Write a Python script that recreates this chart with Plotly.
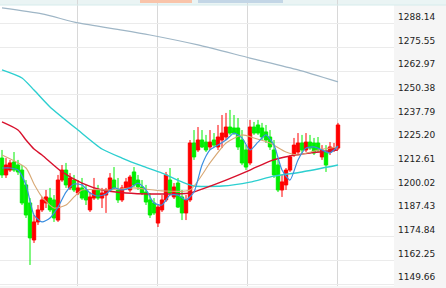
import plotly.graph_objects as go

# ---- candle data (index, open, high, low, close) ----
opens = [1216.8, 1207.8, 1210.4, 1214.7, 1213.1, 1210.4, 1202.5, 1192.9, 1173.2, 1182.8,
         1189.2, 1192.9, 1195.5, 1194.5, 1183.8, 1205.1, 1210.4, 1200.9, 1205.1, 1198.2,
         1200.9, 1199.8, 1189.2, 1195.5, 1199.8, 1195.5, 1197.1, 1199.8, 1205.1, 1199.8,
         1194.5, 1200.9, 1199.8, 1209.4, 1205.1, 1201.4, 1198.7, 1194.5, 1192.9, 1182.2,
         1189.2, 1194.5, 1205.1, 1196.1, 1203.5, 1196.1, 1187.6, 1194.5, 1224.8, 1221.1,
         1226.4, 1225.3, 1222.7, 1226.4, 1222.7, 1226.4, 1228.0, 1233.3, 1232.8, 1232.8,
         1226.4, 1221.1, 1214.2, 1233.3, 1234.4, 1232.8, 1230.7, 1228.0, 1221.1, 1213.1,
         1199.8, 1202.5, 1210.4, 1218.4, 1220.0, 1224.8, 1221.1, 1225.3, 1224.8, 1224.8,
         1217.4, 1220.0, 1220.0, 1221.1, 1222.1]
highs = [1221.1, 1216.8, 1215.8, 1220.0, 1215.8, 1213.1, 1205.1, 1195.5, 1186.5, 1191.8,
         1196.1, 1199.8, 1200.9, 1197.1, 1207.8, 1213.1, 1214.2, 1208.8, 1207.8, 1205.1,
         1206.2, 1202.5, 1198.7, 1206.2, 1202.5, 1200.9, 1200.9, 1208.8, 1212.0, 1206.2,
         1202.5, 1206.2, 1207.8, 1212.0, 1207.8, 1205.1, 1202.5, 1198.2, 1195.5, 1191.8,
         1197.1, 1209.4, 1211.5, 1203.5, 1206.2, 1199.8, 1197.1, 1226.4, 1231.7, 1233.3,
         1231.7, 1229.1, 1231.7, 1230.1, 1234.4, 1239.7, 1240.8, 1242.4, 1239.7, 1238.1,
         1231.7, 1223.7, 1237.1, 1236.0, 1237.1, 1235.5, 1234.4, 1231.7, 1226.4, 1215.8,
         1207.8, 1211.5, 1218.4, 1227.5, 1230.1, 1229.1, 1230.1, 1229.1, 1227.5, 1228.0,
         1223.7, 1223.7, 1225.3, 1224.8, 1235.5]
lows = [1206.2, 1206.2, 1209.4, 1209.4, 1207.8, 1191.8, 1184.9, 1159.9, 1171.6, 1181.2,
        1188.1, 1190.2, 1188.1, 1182.8, 1182.8, 1204.1, 1200.9, 1199.8, 1198.7, 1197.1,
        1194.5, 1191.8, 1188.1, 1194.5, 1194.5, 1190.2, 1187.6, 1198.7, 1199.8, 1192.9,
        1193.4, 1199.8, 1198.7, 1201.4, 1199.8, 1197.1, 1191.8, 1184.9, 1186.5, 1180.1,
        1188.1, 1193.4, 1197.1, 1195.0, 1190.2, 1183.8, 1183.8, 1193.4, 1215.8, 1220.0,
        1222.1, 1220.0, 1221.1, 1222.7, 1221.1, 1222.1, 1226.4, 1229.1, 1229.1, 1221.1,
        1213.1, 1210.4, 1213.1, 1229.1, 1229.1, 1226.4, 1224.8, 1221.1, 1206.2, 1198.7,
        1196.1, 1199.8, 1209.4, 1217.4, 1219.0, 1219.5, 1220.0, 1221.1, 1218.4, 1220.0,
        1215.8, 1209.4, 1218.4, 1220.0, 1221.1]
closes = [1207.8, 1213.1, 1214.2, 1210.4, 1209.4, 1192.9, 1186.5, 1174.3, 1182.8, 1189.2,
          1194.5, 1196.1, 1189.2, 1184.9, 1205.1, 1210.4, 1202.5, 1206.2, 1199.8, 1200.9,
          1195.5, 1194.5, 1196.1, 1199.8, 1195.5, 1198.2, 1199.8, 1206.2, 1200.9, 1194.5,
          1200.9, 1204.1, 1206.7, 1202.5, 1201.4, 1198.2, 1193.4, 1186.5, 1187.6, 1190.7,
          1194.5, 1207.8, 1198.2, 1201.4, 1190.7, 1187.6, 1194.5, 1224.8, 1217.4, 1226.4,
          1222.7, 1221.1, 1225.3, 1223.7, 1228.0, 1230.1, 1233.3, 1230.1, 1230.1, 1222.7,
          1214.2, 1212.0, 1233.3, 1230.1, 1230.1, 1228.0, 1226.4, 1222.7, 1207.8, 1199.8,
          1204.1, 1210.4, 1217.4, 1223.7, 1224.8, 1221.1, 1225.3, 1222.1, 1219.5, 1221.1,
          1221.1, 1213.1, 1222.7, 1222.1, 1234.4]
candle_idx = list(range(len(closes)))

# ---- moving average lines (read at candle indices) ----
ma_long_idx = [0, 10, 19, 30, 37, 49, 62, 74, 84]
ma_long = [1296.7, 1293.5, 1288.7, 1284.9, 1282.3, 1277.0, 1270.0, 1263.7, 1257.3]

ma_cyan_idx = [0, 5, 8, 12, 19, 25, 30, 35, 40, 45, 48, 55, 62, 68, 75, 84]
ma_cyan = [1263.7, 1259.4, 1253.0, 1244.0, 1231.7, 1221.6, 1216.8, 1212.6, 1208.8, 1204.1,
           1201.9, 1201.9, 1204.0, 1207.2, 1209.4, 1213.1]

ma_red_idx = [0, 4, 6, 8, 10, 15, 20, 25, 31, 37, 47, 50, 56, 62, 67, 72, 77, 84]
ma_red = [1236.0, 1231.7, 1226.4, 1221.6, 1218.4, 1209.4, 1203.5, 1199.8, 1198.2, 1197.7,
          1198.2, 1200.3, 1205.1, 1210.4, 1215.2, 1217.9, 1219.5, 1221.1]

ma_tan_idx = [0, 6, 8, 10, 13, 16, 18, 20, 27, 33, 40, 47, 52, 56, 60, 63, 67, 71, 74, 79, 84]
ma_tan = [1218.4, 1211.5, 1203.0, 1196.1, 1190.2, 1191.8, 1196.1, 1199.8, 1199.8, 1200.9,
          1199.3, 1199.8, 1214.2, 1224.8, 1229.1, 1227.5, 1224.8, 1220.0, 1218.4, 1221.1, 1222.7]

ma_blue_idx = list(range(0, 85, 2)) + [84]
ma_blue = [1211.5, 1211.5, 1210.4, 1202.5, 1186.5, 1182.8, 1184.9, 1190.7, 1198.7, 1203.0,
           1202.5, 1198.2, 1196.6, 1197.7, 1200.9, 1199.8, 1200.9, 1203.5, 1199.8, 1192.9,
           1191.8, 1197.1, 1197.1, 1194.5, 1198.7, 1213.1, 1221.1, 1223.7, 1226.4, 1230.1,
           1227.5, 1221.1, 1225.3, 1229.1, 1223.7, 1210.4, 1205.1, 1215.8, 1222.1, 1222.7,
           1221.1, 1219.5, 1223.2]

ytick_vals = [1149.66, 1162.25, 1174.84, 1187.43, 1200.02, 1212.61,
              1225.20, 1237.79, 1250.38, 1262.97, 1275.55, 1288.14]
ytick_text = ["%.2f" % v for v in ytick_vals]

session_marks = [18.75, 38.75, 61.25, 83.75]

fig = go.Figure()

for xs, ys, col, w in [
    (ma_long_idx, ma_long, "#9fb6c6", 1.2),
    (ma_cyan_idx, ma_cyan, "#2ccfd0", 1.4),
    (ma_red_idx, ma_red, "#d8102c", 1.4),
    (ma_tan_idx, ma_tan, "#d8a874", 1.1),
    (ma_blue_idx, ma_blue, "#3a8ee0", 1.2),
]:
    fig.add_trace(go.Scatter(x=xs, y=ys, mode="lines",
                             line=dict(color=col, width=w, shape="spline", smoothing=0.6),
                             hoverinfo="skip", showlegend=False))

fig.add_trace(go.Candlestick(
    x=candle_idx, open=opens, high=highs, low=lows, close=closes,
    increasing=dict(line=dict(color="#ff0000", width=1), fillcolor="#ff0000"),
    decreasing=dict(line=dict(color="#00ee00", width=1), fillcolor="#00ee00"),
    whiskerwidth=0, showlegend=False, hoverinfo="skip"))

# light header band at the very top and slivers of the (cut off) logo
fig.add_shape(type="rect", xref="paper", yref="paper", x0=0, x1=446 / 394,
              y0=1 - 5 / 286, y1=1.01, fillcolor="#eaf4f4", line_width=0, layer="below")
fig.add_shape(type="line", xref="paper", yref="paper", x0=0, x1=446 / 394,
              y0=1 - 5 / 286, y1=1 - 5 / 286, line=dict(color="#d6ecec", width=1))
fig.add_shape(type="rect", xref="paper", yref="paper", x0=140 / 394, x1=192 / 394,
              y0=1 - 3 / 286, y1=1.01, fillcolor="#f9c4aa", line_width=0)
fig.add_shape(type="rect", xref="paper", yref="paper", x0=198 / 394, x1=283 / 394,
              y0=1 - 3 / 286, y1=1.01, fillcolor="#c3d6e6", line_width=0)

fig.update_layout(
    width=446, height=288,
    margin=dict(l=0, r=52, t=0, b=2),
    paper_bgcolor="#f5f5f5",
    plot_bgcolor="#ffffff",
    boxgap=0.15, boxgroupgap=0,
    xaxis=dict(range=[-0.5, 98], showticklabels=False, tickvals=session_marks,
               showgrid=True, gridcolor="#d8d8d8", gridwidth=1, zeroline=False,
               rangeslider=dict(visible=False), fixedrange=True),
    yaxis=dict(range=[1148.70, 1300.91], side="right", tickvals=ytick_vals,
               ticktext=ytick_text, showgrid=True, gridcolor="#ebebeb", gridwidth=1,
               zeroline=False, ticks="", ticklabelshift=-7, ticklabelstandoff=3,
               tickfont=dict(family="DejaVu Sans", size=9, color="#222222")),
)

fig.write_html("out.html")
